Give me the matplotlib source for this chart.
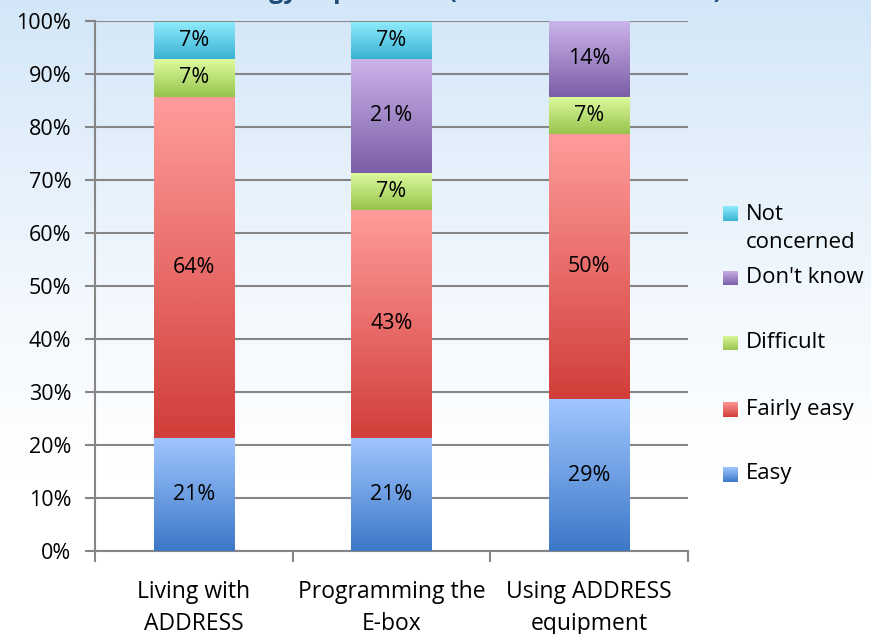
import numpy as np
import matplotlib
matplotlib.use("Agg")
import matplotlib.pyplot as plt
from matplotlib.colors import LinearSegmentedColormap

plt.rcParams['font.family'] = ['Open Sans', 'DejaVu Sans']

categories = ["Living with\nADDRESS", "Programming the\nE-box", "Using ADDRESS\nequipment"]
series = ["Easy", "Fairly easy", "Difficult", "Don't know", "Not concerned"]
easy = [21.4, 21.4, 28.6]
fairly_easy = [64.3, 42.9, 50.0]
difficult = [7.1, 7.1, 7.1]
dont_know = [0.0, 21.4, 14.3]
not_concerned = [7.1, 7.1, 0.0]
values = [easy, fairly_easy, difficult, dont_know, not_concerned]
legend_labels = ["Easy", "Fairly easy", "Difficult", "Don't know", "Not\nconcerned"]

# (top colour, bottom colour) of each segment gradient
grads = [("#a0c6ff", "#3d78c8"),
         ("#ff9c9a", "#d23e3a"),
         ("#ddfb9e", "#98c44e"),
         ("#cbb3ea", "#7b5ea6"),
         ("#90ecfc", "#3ab2d4")]

W, H = 871, 634
fig = plt.figure(figsize=(W / 100, H / 100), dpi=100)

# sky background
bg = fig.add_axes([0, 0, 1, 1], zorder=-5)
bg.axis('off')
yy = np.linspace(0, 1, 300)[:, None]
sky = LinearSegmentedColormap.from_list("sky", ["#d3e7f8", "#e4f0fb", "#f4f9fe", "#ffffff", "#ffffff"])
bg.imshow(yy * np.ones((1, 50)), cmap=sky, aspect='auto', extent=[0, 1, 0, 1], origin='upper')
bg.set_xlim(0, 1)
bg.set_ylim(0, 1)

ax = fig.add_axes([95 / W, 83 / H, 593 / W, 530 / H])
ax.patch.set_alpha(0)

x = np.arange(len(categories))
bw = 0.405
bottom = np.zeros(len(categories))
grad = np.linspace(1, 0, 100)[:, None]
cmaps = [LinearSegmentedColormap.from_list("g%d" % i, [g[1], g[0]]) for i, g in enumerate(grads)]
for i, vals in enumerate(values):
    bars = ax.bar(x, vals, bw, bottom=bottom, color='none', edgecolor='none', zorder=3)
    for b, v in zip(bars, vals):
        if v <= 0:
            continue
        x0, y0 = b.get_x(), b.get_y()
        im = ax.imshow(grad, cmap=cmaps[i], vmin=0, vmax=1, aspect='auto',
                       extent=[x0, x0 + b.get_width(), y0, y0 + b.get_height()],
                       origin='upper', zorder=3, interpolation='bicubic')
        im.set_clip_path(b)
        ax.text(b.get_x() + b.get_width() / 2, y0 + v / 2, f"{v:.0f}%",
                ha='center', va='center', fontsize=15.5, color='black', zorder=5)
    bottom += np.array(vals)

ax.set_xlim(-0.5, 2.5)
ax.set_ylim(0, 100)
ax.set_yticks(np.arange(0, 101, 10))
ax.set_yticklabels([f"{t}%" for t in range(0, 101, 10)], fontsize=15.5)
ax.yaxis.grid(True, color='#868686', lw=1.5, zorder=1)
ax.set_axisbelow(True)
ax.set_xticks([-0.5, 0.5, 1.5, 2.5])
ax.set_xticklabels([])
ax.set_xticks(x, minor=True)
ax.set_xticklabels(categories, minor=True, fontsize=16.5, linespacing=1.42)
ax.tick_params(axis='x', which='major', length=8, width=1.5, color='#868686')
ax.tick_params(axis='x', which='minor', length=0, pad=21)
ax.tick_params(axis='y', length=7, width=1.5, color='#868686', pad=10)
for s in ['top', 'right']:
    ax.spines[s].set_visible(False)
for s in ['left', 'bottom']:
    ax.spines[s].set_color('#868686')
    ax.spines[s].set_linewidth(1.5)

# legend: gradient squares, reversed order, wide spacing
leg_y = [474, 409, 343, 278, 213]  # pixel rows of the first text line
for i, lab in enumerate(legend_labels):
    yc = leg_y[i]
    sq = fig.add_axes([723 / W, 1 - (yc + 7.5) / H, 15 / W, 15 / H])
    sq.imshow(grad, cmap=cmaps[i], vmin=0, vmax=1, aspect='auto', extent=[0, 1, 0, 1])
    sq.axis('off')
    ytxt = yc if '\n' not in lab else yc + 15.5
    fig.text(746 / W, 1 - ytxt / H, lab, ha='left', va='center',
             fontsize=16, linespacing=1.5)

# title, cut off at the top of the picture
fig.text(722 / W, 1.0 + 1.5 / H, "Technology experience (household members)",
         ha='right', va='baseline', fontsize=18, fontweight='bold', color='#1f4e79')

fig.savefig("out.png", dpi=100)
